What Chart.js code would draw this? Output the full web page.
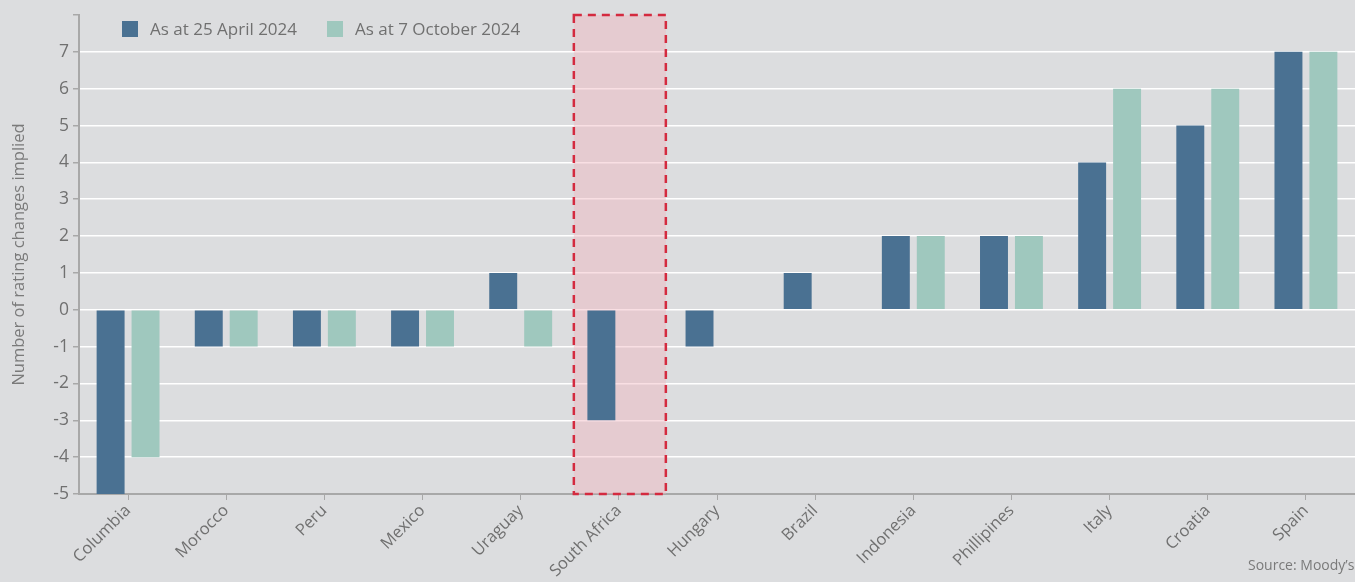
<!DOCTYPE html>
<html>
<head>
<meta charset="utf-8">
<script src="https://cdn.jsdelivr.net/npm/chart.js@4"></script>
<style>
  html, body { margin: 0; padding: 0; background: #dcdddf; }
  #wrap { position: relative; width: 1355px; height: 582px; overflow: hidden; }
  #legend { position: absolute; left: 122px; top: 17px; font-family: 'Open Sans', sans-serif; font-size: 17px; color: #707070; display: flex; }
  #legend span.item { display: flex; align-items: center; margin-right: 30px; }
  #legend i { display: inline-block; width: 16px; height: 16px; margin-right: 12px; }
  #source { position: absolute; left: 1248px; top: 555px; font-family: 'Open Sans', sans-serif; font-size: 14px; color: #7a7a7a; white-space: nowrap; }
</style>
</head>
<body>
<div id="wrap">
  <canvas id="chart" width="1355" height="582"></canvas>
  <div id="legend"></div>
  <div id="source">Source: Moody’s</div>
</div>
<script>
const countries = ['Columbia', 'Morocco', 'Peru', 'Mexico', 'Uraguay', 'South Africa', 'Hungary',
                   'Brazil', 'Indonesia', 'Phillipines', 'Italy', 'Croatia', 'Spain'];
const april = [-5, -1, -1, -1, 1, -3, -1, 1, 2, 2, 4, 5, 7];
const october = [-4, -1, -1, -1, -1, null, null, null, 2, 2, 6, 6, 7];
const seriesNames = ['As at 25 April 2024', 'As at 7 October 2024'];
const seriesColors = ['#4a7192', '#9fc8be'];
const highlighted = 'South Africa';

const gray = '#707070';

// pink dashed box behind the highlighted country
const highlightBox = {
    id: 'highlightBox',
    beforeDatasetsDraw(chart) {
        const x = chart.scales.x, y = chart.scales.y;
        const cx = x.getPixelForValue(countries.indexOf(highlighted)) + 1;
        const half = 46;
        const top = y.getPixelForValue(y.max), bottom = y.getPixelForValue(y.min);
        const c = chart.ctx;
        c.save();
        c.fillStyle = 'rgba(240,178,188,0.42)';
        c.fillRect(cx - half, top, half * 2, bottom - top);
        c.strokeStyle = '#d42a3f';
        c.lineWidth = 2.5;
        c.setLineDash([8, 6]);
        c.strokeRect(cx - half, top, half * 2, bottom - top);
        c.restore();
    }
};

const ctx = document.getElementById('chart').getContext('2d');
const chart = new Chart(ctx, {
    type: 'bar',
    data: {
        labels: countries,
        datasets: [
            { label: seriesNames[0], data: april, backgroundColor: seriesColors[0] },
            { label: seriesNames[1], data: october, backgroundColor: seriesColors[1] }
        ]
    },
    options: {
        responsive: false,
        animation: false,
        categoryPercentage: 0.712,
        barPercentage: 0.8,
        layout: { padding: { top: 15, left: 0, right: 0, bottom: 0 } },
        plugins: {
            legend: { display: false },
            tooltip: { enabled: false }
        },
        scales: {
            x: {
                afterFit(scale) { scale.height = 88; },
                grid: { display: true, drawOnChartArea: false, drawTicks: true, tickLength: 6, color: '#a8a8a8', offset: false },
                border: { color: '#a8a8a8', width: 2 },
                ticks: {
                    autoSkip: false, maxRotation: 45, minRotation: 45,
                    color: gray, padding: 1,
                    font: { family: 'Open Sans', size: 16.5 }
                }
            },
            y: {
                min: -5, max: 8,
                afterFit(scale) { scale.width = 79; },
                title: {
                    display: true, text: 'Number of rating changes implied',
                    color: '#7a7a7a', padding: { top: 9, bottom: 2 },
                    font: { family: 'Open Sans', size: 16.5 }
                },
                grid: {
                    tickLength: 6,
                    color(c) {
                        if (c.type !== 'tick') return 'transparent';
                        return (c.tick.value === 8 || c.tick.value === -5) ? 'transparent' : '#ffffff';
                    },
                    tickColor: '#a8a8a8',
                    lineWidth: 1.5
                },
                border: { color: '#a8a8a8', width: 2 },
                ticks: {
                    stepSize: 1, color: gray, padding: 4,
                    font: { family: 'Open Sans', size: 17.5 },
                    callback: v => v === 8 ? '' : v
                }
            }
        }
    },
    plugins: [highlightBox]
});

// legend
const legend = document.getElementById('legend');
seriesNames.forEach((name, i) => {
    const item = document.createElement('span');
    item.className = 'item';
    const box = document.createElement('i');
    box.style.background = seriesColors[i];
    item.appendChild(box);
    item.appendChild(document.createTextNode(name));
    legend.appendChild(item);
});
</script>
</body>
</html>
